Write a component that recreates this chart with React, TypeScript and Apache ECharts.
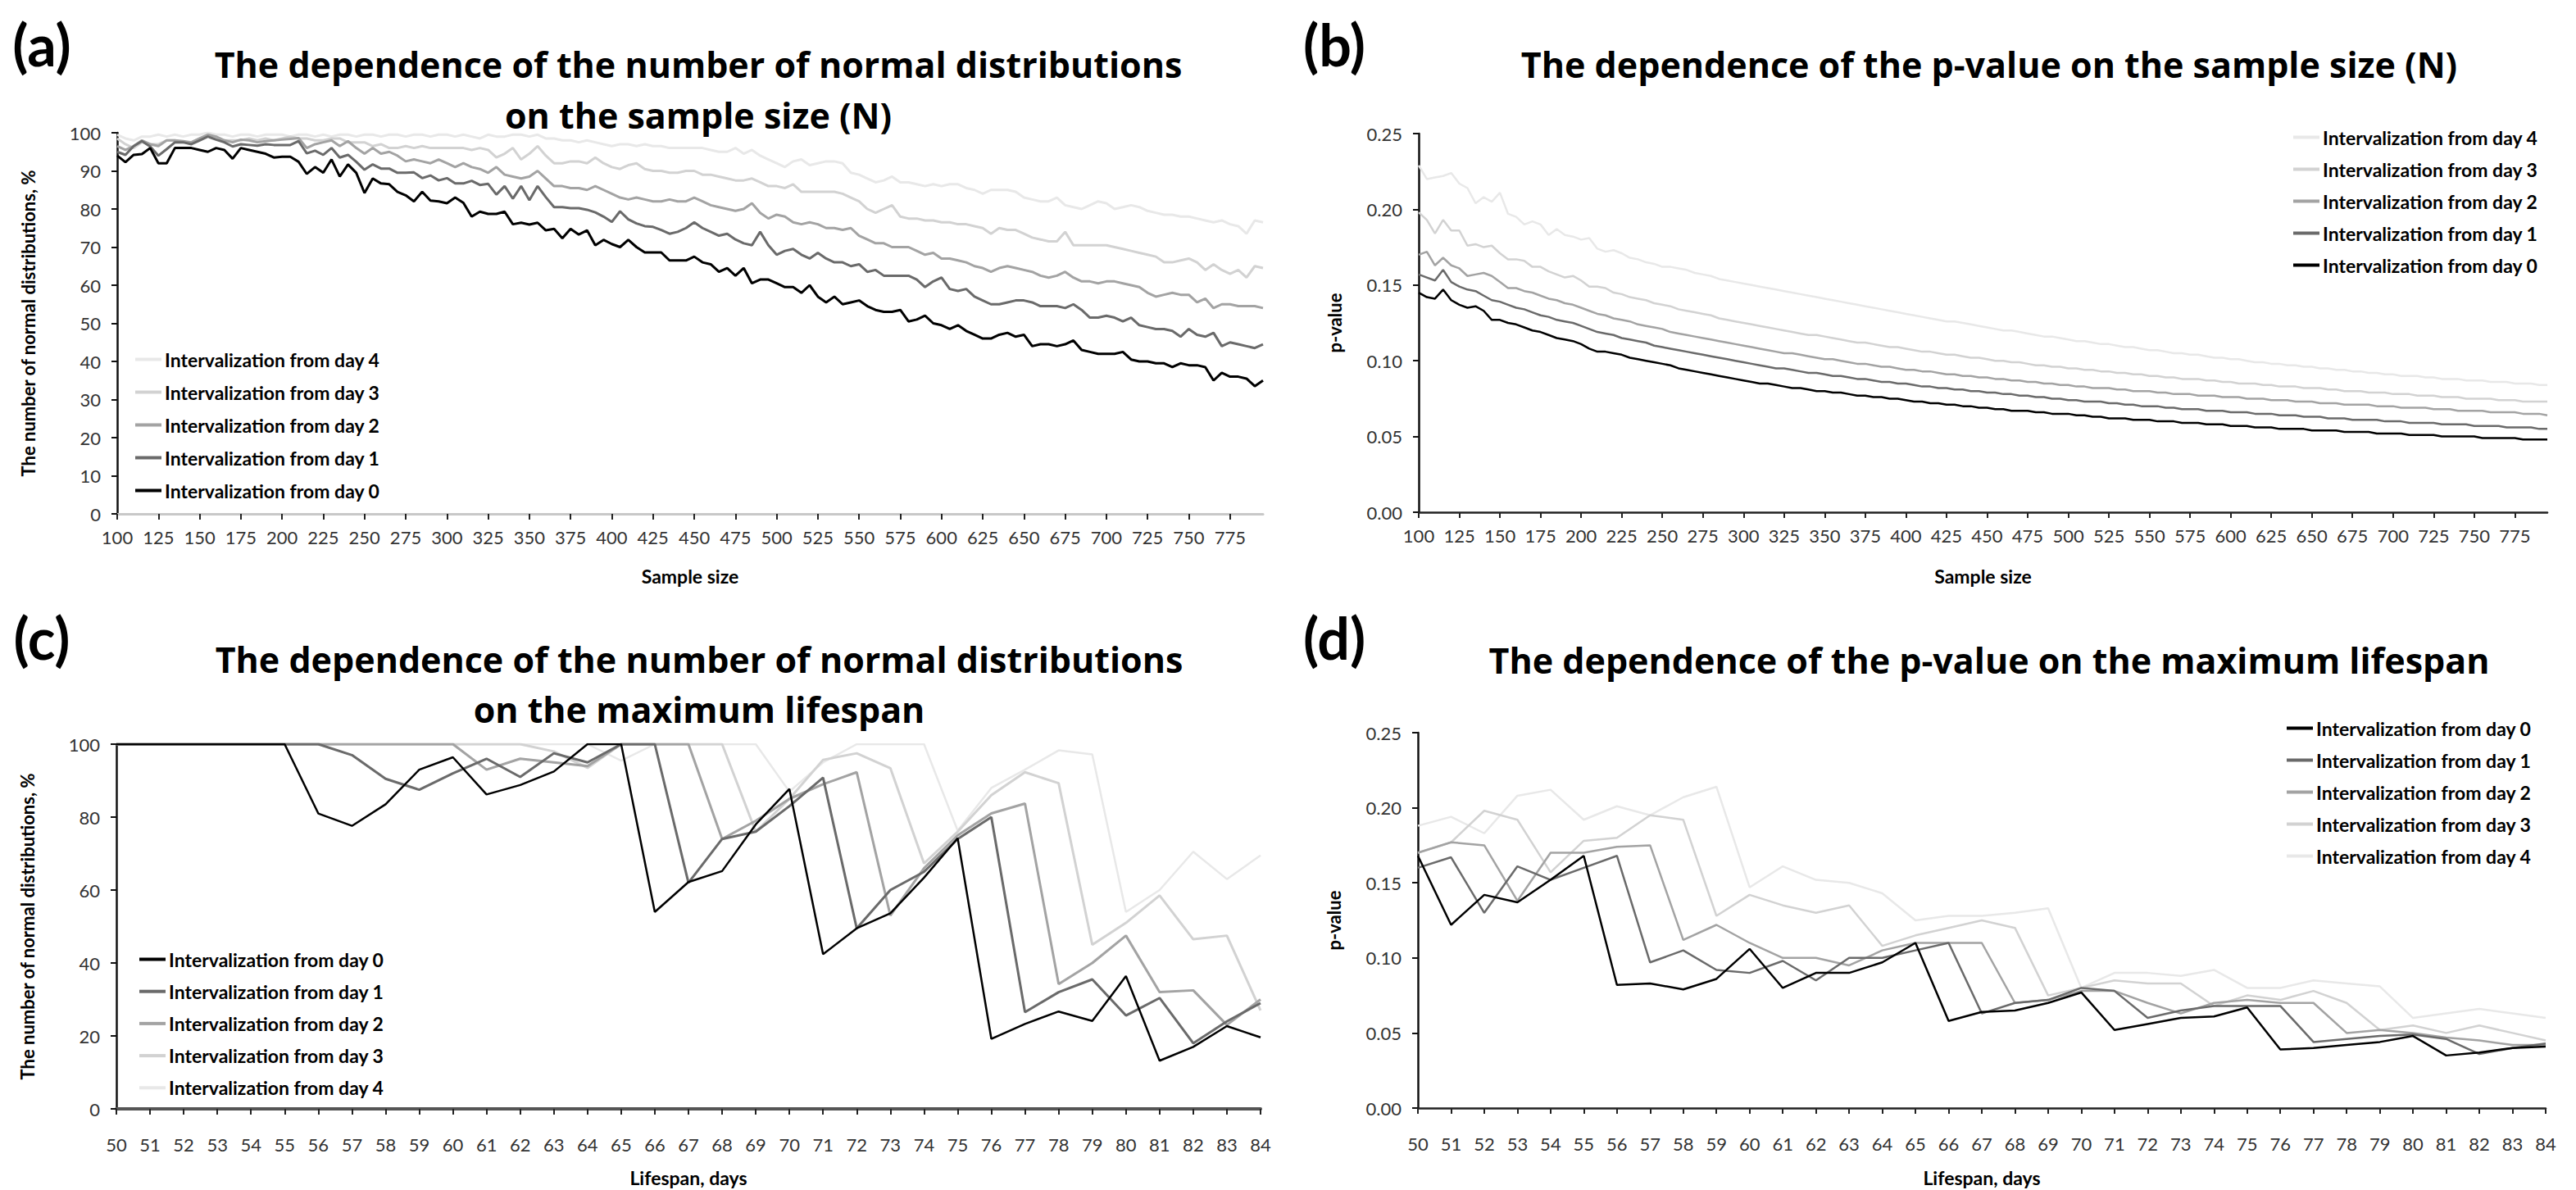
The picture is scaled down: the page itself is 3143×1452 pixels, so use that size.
import React, { useEffect, useRef } from 'react';
import * as echarts from 'echarts';

const FONT = 'Lato, "Open Sans", "DejaVu Sans", sans-serif';
const FONT_TITLE = '"Open Sans", Lato, "DejaVu Sans", sans-serif';

const SAMPLE_SIZES: string[] = [];
for (let n = 100; n <= 795; n += 5) SAMPLE_SIZES.push(String(n));
const LIFESPANS: string[] = [];
for (let d = 50; d <= 84; d++) LIFESPANS.push(String(d));

const NAMES = [
  'Intervalization from day 0',
  'Intervalization from day 1',
  'Intervalization from day 2',
  'Intervalization from day 3',
  'Intervalization from day 4',
];
const COLORS = ['#000000', '#6a6a6a', '#a3a3a3', '#d2d2d2', '#e8e8e8'];

// (a) number of normal distributions (%) vs sample size
const NORM_N_DAY0 = [
  94, 92.3, 94.2, 94.4, 96, 92, 92, 96, 96, 96,
  95.5, 95, 96, 95.5, 93.2, 96, 95.5, 95, 94.5, 93.5,
  93.7, 93.7, 92.4, 89.2, 91, 89.5, 93, 88.5, 91.7, 89.5,
  84.2, 88, 86.7, 86.5, 84.5, 83.6, 82, 84.5, 82.2, 82,
  81.5, 83, 81.6, 78, 79.3, 78.7, 78.7, 79.3, 76, 76.4,
  75.9, 76.4, 74.4, 74.8, 72.3, 74.8, 73.3, 74.4, 70.5, 71.9,
  70.8, 70, 71.9, 70, 68.6, 68.6, 68.6, 66.5, 66.5, 66.5,
  67.5, 66, 65.5, 63.5, 64.5, 62.5, 64.5, 60.5, 61.5, 61.5,
  60.5, 59.5, 59.5, 58, 60, 57, 55.5, 57, 55, 55.5,
  56, 54.5, 53.5, 53, 53, 53.5, 50.5, 51, 52, 50,
  49.5, 48.5, 49.5, 48, 47, 46, 46, 47, 47.5, 46.5,
  47, 44, 44.5, 44.5, 44, 44.5, 45.5, 43, 42.5, 42,
  42, 42, 42.5, 40.5, 40, 40, 39.5, 39.5, 38.5, 39.5,
  39, 39, 38.5, 35, 37, 36, 36, 35.5, 33.5, 35,
];
const NORM_N_DAY1 = [
  95, 94.2, 96.5, 97.8, 96.4, 94, 95.7, 97.5, 97.5, 97,
  98, 99, 98.2, 97.5, 96.4, 97, 96.8, 96.6, 97, 96.8,
  96.8, 96.8, 97.8, 94.6, 95.3, 94.2, 96, 93.5, 94.2, 92.4,
  90.3, 91.7, 90.6, 90.6, 89.5, 89.5, 89.6, 88.1, 88.8, 87.5,
  88.1, 86.7, 86.7, 87.4, 86.3, 86.6, 83.8, 86, 82.7, 86,
  82.3, 86, 83.1, 80.5, 80.5, 80.2, 80.2, 79.8, 79.1, 78,
  76.6, 79.4, 77.3, 76.2, 75.5, 75.3, 74.5, 73.5, 74, 75,
  76.5, 75, 74, 73, 73.5, 72, 71, 70.5, 74, 70.5,
  68, 69, 69.5, 68, 67, 68.5, 67, 66, 66, 65,
  65.5, 63.5, 64, 62.5, 62.5, 62.5, 62.5, 61.5, 59.5, 61,
  62, 59, 58.5, 59, 57, 56, 55, 55, 55.5, 56,
  56, 55.5, 54.5, 54.5, 54.5, 54, 55, 53.5, 51.5, 51.5,
  52, 51.5, 50.5, 51.5, 49.5, 49, 48.5, 48.5, 48, 46.5,
  48.5, 47, 46.5, 47.5, 44, 45, 44.5, 44, 43.5, 44.5,
];
const NORM_N_DAY2 = [
  96.5, 95.5, 96.5, 98, 97, 96.5, 98, 98, 97.8, 97.5,
  98.5, 99.5, 99, 98, 97.5, 98.2, 98, 97.5, 97.8, 98,
  98.2, 98.4, 98.6, 96, 97, 97.5, 98, 96.5, 97.8, 96,
  94.5, 96, 94.5, 95, 94, 92.5, 93, 92.5, 92, 93,
  92, 91, 92, 91, 90.5, 89.5, 91, 89, 88.5, 88,
  88.5, 90, 88, 86, 86, 85.5, 85.5, 85, 86, 85,
  84, 83, 82.5, 83, 82.5, 82, 82, 82.5, 82, 82,
  83, 82, 81, 80.5, 80, 79.5, 80, 81.5, 79, 77.5,
  78.5, 78, 76.5, 76, 76.5, 76, 75, 75, 74.5, 75,
  73, 72, 71, 71, 70, 70, 70, 69, 68, 68.5,
  67, 67, 66.5, 66, 65, 64.5, 63.5, 64.5, 65, 64.5,
  64, 63.5, 62.5, 62, 62.5, 63.5, 62, 61, 61, 60.5,
  61, 61, 60.5, 60, 59.5, 58, 57, 57.5, 58, 57.5,
  57.5, 55.5, 56.5, 54, 55, 55, 54.5, 54.5, 54.5, 54,
];
const NORM_N_DAY3 = [
  98.5, 97, 96, 97.5, 97, 97, 98, 98, 97.5, 97.5,
  98.5, 99.5, 98.5, 98, 98, 98, 98.5, 98, 98.5, 98,
  98.5, 99, 98.5, 98.5, 98, 98, 98.5, 98.5, 97.5, 97.5,
  97.5, 96.5, 97, 96, 96, 96.5, 96, 96.5, 96, 96,
  96, 96, 96, 95.5, 96, 95.5, 93.5, 94.5, 96, 93,
  94.5, 96.5, 94, 92, 92, 92.5, 92.5, 92, 93.5, 92,
  91, 90.5, 91.5, 92, 90.5, 90, 90, 89.5, 89.5, 90,
  90, 89, 89, 88.5, 88, 87.5, 87.5, 88, 87, 86,
  86, 85.5, 86.5, 84.5, 84.5, 84.5, 84.5, 84.5, 84, 83,
  82, 80, 79, 80, 81, 78, 77.5, 77.5, 77, 77,
  76.5, 76.5, 76, 76, 75.5, 75, 73.5, 75, 74.5, 74.5,
  73.5, 72.5, 72, 71.5, 71.5, 74, 70.5, 70.5, 70.5, 70.5,
  70.5, 70, 69.5, 69, 68.5, 68, 67.5, 66, 66, 66.5,
  67, 66, 64, 65.5, 64, 63, 64, 62, 65, 64.5,
];
const NORM_N_DAY4 = [
  99.5, 98.5, 98, 99, 99, 99.5, 99, 99.5, 99, 99.5,
  99.5, 100, 99.5, 99.5, 99, 99.5, 99.5, 99, 99.5, 99.5,
  99.5, 99, 99.5, 99.5, 99, 99.5, 99, 99.5, 99.5, 99,
  99.5, 99.5, 99, 99.5, 99.5, 99, 99.5, 99.5, 99, 99.5,
  99.5, 99, 99.5, 99, 98.5, 99.5, 99, 99, 99.5, 99.5,
  99, 99.5, 98.5, 98.5, 98, 98, 97.5, 98, 97.5, 97,
  96.5, 97, 97, 96.5, 97, 96.5, 96.5, 96, 96, 96,
  96, 96, 95.5, 95, 95, 96, 94.5, 95.5, 94, 93,
  92, 91, 92.5, 93, 91.5, 92, 92.5, 92.5, 92, 89.5,
  89, 88, 87, 87.5, 88.5, 87, 87, 86.5, 86, 86.5,
  86, 86.5, 86.5, 85.5, 85, 84, 85, 85, 85, 84.5,
  83, 82.5, 82, 82, 83, 81, 80.5, 80, 81, 82,
  81.5, 80, 80.5, 81, 80.5, 79.5, 79, 78.5, 78.5, 78,
  78, 77.5, 77, 76.5, 77, 76, 75.5, 73.5, 77, 76.5,
];

// (b) p-value vs sample size
const PVAL_N_DAY0 = [
  0.145, 0.142, 0.141, 0.147, 0.140, 0.137, 0.135, 0.136, 0.133, 0.127,
  0.127, 0.125, 0.124, 0.122, 0.120, 0.119, 0.117, 0.115, 0.114, 0.113,
  0.111, 0.108, 0.106, 0.106, 0.105, 0.104, 0.102, 0.101, 0.100, 0.099,
  0.098, 0.097, 0.095, 0.094, 0.093, 0.092, 0.091, 0.090, 0.089, 0.088,
  0.087, 0.086, 0.085, 0.085, 0.084, 0.083, 0.082, 0.082, 0.081, 0.080,
  0.080, 0.079, 0.079, 0.078, 0.077, 0.077, 0.076, 0.076, 0.075, 0.075,
  0.074, 0.073, 0.073, 0.072, 0.072, 0.071, 0.071, 0.070, 0.070, 0.069,
  0.069, 0.068, 0.068, 0.067, 0.067, 0.067, 0.066, 0.066, 0.065, 0.065,
  0.065, 0.064, 0.064, 0.063, 0.063, 0.062, 0.062, 0.062, 0.061, 0.061,
  0.061, 0.060, 0.060, 0.060, 0.059, 0.059, 0.059, 0.058, 0.058, 0.058,
  0.057, 0.057, 0.057, 0.056, 0.056, 0.056, 0.055, 0.055, 0.055, 0.055,
  0.054, 0.054, 0.054, 0.054, 0.053, 0.053, 0.053, 0.053, 0.052, 0.052,
  0.052, 0.052, 0.051, 0.051, 0.051, 0.051, 0.050, 0.050, 0.050, 0.050,
  0.050, 0.049, 0.049, 0.049, 0.049, 0.049, 0.048, 0.048, 0.048, 0.048,
];
const PVAL_N_DAY1 = [
  0.157, 0.155, 0.153, 0.160, 0.152, 0.149, 0.147, 0.146, 0.143, 0.140,
  0.139, 0.137, 0.135, 0.134, 0.132, 0.130, 0.129, 0.127, 0.126, 0.125,
  0.123, 0.121, 0.119, 0.118, 0.117, 0.115, 0.114, 0.113, 0.112, 0.110,
  0.109, 0.108, 0.107, 0.106, 0.105, 0.104, 0.103, 0.102, 0.101, 0.100,
  0.099, 0.098, 0.097, 0.096, 0.095, 0.095, 0.094, 0.093, 0.092, 0.092,
  0.091, 0.090, 0.090, 0.089, 0.088, 0.088, 0.087, 0.086, 0.086, 0.085,
  0.085, 0.084, 0.083, 0.083, 0.082, 0.082, 0.081, 0.081, 0.080, 0.080,
  0.079, 0.079, 0.078, 0.078, 0.077, 0.077, 0.076, 0.076, 0.075, 0.075,
  0.074, 0.074, 0.073, 0.073, 0.073, 0.072, 0.072, 0.071, 0.071, 0.070,
  0.070, 0.070, 0.069, 0.069, 0.068, 0.068, 0.068, 0.067, 0.067, 0.067,
  0.066, 0.066, 0.066, 0.065, 0.065, 0.065, 0.064, 0.064, 0.064, 0.063,
  0.063, 0.063, 0.062, 0.062, 0.062, 0.061, 0.061, 0.061, 0.061, 0.060,
  0.060, 0.060, 0.059, 0.059, 0.059, 0.059, 0.058, 0.058, 0.058, 0.058,
  0.057, 0.057, 0.057, 0.057, 0.056, 0.056, 0.056, 0.056, 0.055, 0.055,
];
const PVAL_N_DAY2 = [
  0.170, 0.172, 0.163, 0.168, 0.163, 0.161, 0.156, 0.157, 0.158, 0.156,
  0.152, 0.148, 0.148, 0.146, 0.145, 0.143, 0.141, 0.140, 0.138, 0.137,
  0.135, 0.133, 0.131, 0.130, 0.128, 0.127, 0.126, 0.124, 0.123, 0.122,
  0.121, 0.119, 0.118, 0.117, 0.116, 0.115, 0.114, 0.113, 0.112, 0.111,
  0.110, 0.109, 0.108, 0.107, 0.106, 0.105, 0.105, 0.104, 0.103, 0.102,
  0.101, 0.101, 0.100, 0.099, 0.098, 0.098, 0.097, 0.096, 0.096, 0.095,
  0.094, 0.094, 0.093, 0.093, 0.092, 0.091, 0.091, 0.090, 0.090, 0.089,
  0.089, 0.088, 0.088, 0.087, 0.087, 0.086, 0.086, 0.085, 0.085, 0.084,
  0.084, 0.083, 0.083, 0.082, 0.082, 0.082, 0.081, 0.081, 0.080, 0.080,
  0.080, 0.079, 0.079, 0.078, 0.078, 0.078, 0.077, 0.077, 0.077, 0.076,
  0.076, 0.076, 0.075, 0.075, 0.075, 0.074, 0.074, 0.074, 0.073, 0.073,
  0.073, 0.072, 0.072, 0.072, 0.071, 0.071, 0.071, 0.071, 0.070, 0.070,
  0.070, 0.069, 0.069, 0.069, 0.069, 0.068, 0.068, 0.068, 0.067, 0.067,
  0.067, 0.067, 0.066, 0.066, 0.066, 0.066, 0.065, 0.065, 0.065, 0.064,
];
const PVAL_N_DAY3 = [
  0.198, 0.193, 0.184, 0.193, 0.186, 0.186, 0.176, 0.177, 0.175, 0.176,
  0.171, 0.167, 0.167, 0.166, 0.162, 0.162, 0.159, 0.157, 0.155, 0.156,
  0.153, 0.149, 0.149, 0.148, 0.145, 0.144, 0.142, 0.141, 0.140, 0.138,
  0.137, 0.136, 0.134, 0.133, 0.132, 0.131, 0.130, 0.128, 0.127, 0.126,
  0.125, 0.124, 0.123, 0.122, 0.121, 0.120, 0.119, 0.118, 0.117, 0.117,
  0.116, 0.115, 0.114, 0.113, 0.112, 0.112, 0.111, 0.110, 0.109, 0.109,
  0.108, 0.107, 0.106, 0.106, 0.105, 0.104, 0.104, 0.103, 0.102, 0.102,
  0.101, 0.100, 0.100, 0.099, 0.099, 0.098, 0.097, 0.097, 0.096, 0.096,
  0.095, 0.095, 0.094, 0.094, 0.093, 0.093, 0.092, 0.092, 0.091, 0.091,
  0.090, 0.090, 0.089, 0.089, 0.088, 0.088, 0.088, 0.087, 0.087, 0.086,
  0.086, 0.085, 0.085, 0.085, 0.084, 0.084, 0.083, 0.083, 0.083, 0.082,
  0.082, 0.082, 0.081, 0.081, 0.080, 0.080, 0.080, 0.079, 0.079, 0.079,
  0.078, 0.078, 0.078, 0.077, 0.077, 0.077, 0.076, 0.076, 0.076, 0.075,
  0.075, 0.075, 0.075, 0.074, 0.074, 0.074, 0.073, 0.073, 0.073, 0.073,
];
const PVAL_N_DAY4 = [
  0.229, 0.220, 0.221, 0.222, 0.224, 0.217, 0.214, 0.204, 0.208, 0.205,
  0.211, 0.197, 0.195, 0.190, 0.192, 0.190, 0.183, 0.187, 0.183, 0.182,
  0.180, 0.181, 0.174, 0.172, 0.173, 0.171, 0.168, 0.167, 0.165, 0.164,
  0.162, 0.162, 0.161, 0.160, 0.158, 0.157, 0.156, 0.154, 0.153, 0.152,
  0.151, 0.150, 0.149, 0.148, 0.147, 0.146, 0.145, 0.144, 0.143, 0.142,
  0.141, 0.140, 0.139, 0.138, 0.137, 0.136, 0.135, 0.134, 0.133, 0.132,
  0.131, 0.130, 0.129, 0.128, 0.127, 0.126, 0.126, 0.125, 0.124, 0.123,
  0.122, 0.121, 0.120, 0.120, 0.119, 0.118, 0.117, 0.116, 0.116, 0.115,
  0.114, 0.113, 0.113, 0.112, 0.111, 0.111, 0.110, 0.109, 0.109, 0.108,
  0.107, 0.107, 0.106, 0.105, 0.105, 0.104, 0.104, 0.103, 0.102, 0.102,
  0.101, 0.101, 0.100, 0.099, 0.099, 0.098, 0.098, 0.097, 0.097, 0.096,
  0.096, 0.095, 0.095, 0.094, 0.094, 0.093, 0.093, 0.092, 0.092, 0.091,
  0.091, 0.090, 0.090, 0.090, 0.089, 0.089, 0.088, 0.088, 0.088, 0.087,
  0.087, 0.087, 0.086, 0.086, 0.086, 0.085, 0.085, 0.085, 0.084, 0.084,
];

// (c) number of normal distributions (%) vs maximum lifespan (days 50..84)
const NORM_L_DAY0 = [100, 100, 100, 100, 100, 100, 81, 77.6, 83.5, 93, 96.4, 86.2, 88.8, 92.5, 100, 100, 54, 62.2, 65.2, 78, 87.7, 42.4, 49.5, 53.6, 63.4, 74.2, 19.2, 23.3, 26.7, 24.1, 36.4, 13.2, 17, 22.7, 19.6];
const NORM_L_DAY1 = [100, 100, 100, 100, 100, 100, 100, 97, 90.5, 87.5, 92, 96, 91, 97.5, 95, 100, 100, 62, 74, 76, 83, 90.8, 49.5, 60, 65, 74, 80, 26.5, 32, 35.5, 25.6, 30.4, 18, 24, 29];
const NORM_L_DAY2 = [100, 100, 100, 100, 100, 100, 100, 100, 100, 100, 100, 93, 96, 95, 94, 100, 100, 100, 74, 79, 85, 89, 92.3, 53, 66, 75, 81, 83.7, 34.2, 40, 47.5, 32, 32.5, 23, 30];
const NORM_L_DAY3 = [100, 100, 100, 100, 100, 100, 100, 100, 100, 100, 100, 100, 100, 98, 93.5, 100, 100, 100, 100, 76, 85, 95.7, 97.5, 93.4, 67.3, 76, 86, 92.3, 89.3, 45, 51, 58.5, 46.5, 47.5, 27];
const NORM_L_DAY4 = [100, 100, 100, 100, 100, 100, 100, 100, 100, 100, 100, 100, 100, 100, 100, 95.5, 100, 100, 100, 100, 87, 95, 100, 100, 100, 76.3, 88, 93, 98.3, 97.2, 54, 60, 70.5, 63, 69.5];

// (d) p-value vs maximum lifespan (days 50..84)
const PVAL_L_DAY0 = [0.168, 0.122, 0.142, 0.137, 0.152, 0.168, 0.082, 0.083, 0.079, 0.086, 0.106, 0.080, 0.090, 0.090, 0.097, 0.110, 0.058, 0.064, 0.065, 0.070, 0.077, 0.052, 0.056, 0.060, 0.061, 0.067, 0.039, 0.040, 0.042, 0.044, 0.048, 0.035, 0.037, 0.040, 0.041];
const PVAL_L_DAY1 = [0.160, 0.167, 0.130, 0.161, 0.152, 0.160, 0.168, 0.097, 0.105, 0.092, 0.090, 0.098, 0.085, 0.100, 0.100, 0.105, 0.110, 0.063, 0.070, 0.072, 0.080, 0.078, 0.060, 0.065, 0.068, 0.068, 0.068, 0.044, 0.046, 0.048, 0.049, 0.046, 0.036, 0.040, 0.043];
const PVAL_L_DAY2 = [0.170, 0.177, 0.175, 0.138, 0.170, 0.170, 0.174, 0.175, 0.112, 0.122, 0.110, 0.100, 0.100, 0.095, 0.105, 0.110, 0.110, 0.110, 0.070, 0.072, 0.078, 0.078, 0.070, 0.063, 0.070, 0.072, 0.070, 0.070, 0.050, 0.052, 0.050, 0.047, 0.045, 0.042, 0.042];
const PVAL_L_DAY3 = [0.170, 0.177, 0.198, 0.192, 0.157, 0.178, 0.180, 0.195, 0.192, 0.128, 0.142, 0.135, 0.130, 0.135, 0.108, 0.115, 0.120, 0.125, 0.120, 0.075, 0.080, 0.085, 0.083, 0.083, 0.068, 0.075, 0.072, 0.078, 0.070, 0.052, 0.055, 0.050, 0.055, 0.050, 0.045];
const PVAL_L_DAY4 = [0.188, 0.194, 0.183, 0.208, 0.212, 0.192, 0.201, 0.195, 0.207, 0.214, 0.147, 0.161, 0.152, 0.150, 0.143, 0.125, 0.128, 0.128, 0.130, 0.133, 0.080, 0.090, 0.090, 0.088, 0.092, 0.080, 0.080, 0.085, 0.083, 0.081, 0.060, 0.063, 0.066, 0.063, 0.060];

const PANEL_DATA = [
  [NORM_N_DAY0, NORM_N_DAY1, NORM_N_DAY2, NORM_N_DAY3, NORM_N_DAY4],
  [PVAL_N_DAY0, PVAL_N_DAY1, PVAL_N_DAY2, PVAL_N_DAY3, PVAL_N_DAY4],
  [NORM_L_DAY0, NORM_L_DAY1, NORM_L_DAY2, NORM_L_DAY3, NORM_L_DAY4],
  [PVAL_L_DAY0, PVAL_L_DAY1, PVAL_L_DAY2, PVAL_L_DAY3, PVAL_L_DAY4],
];
const LINE_WIDTHS = [
  [3, 3, 3, 3, 3],
  [2.5, 2.5, 2.5, 2.5, 2.5],
  [2.5, 3, 3, 3, 2.5],
  [2.5, 2.5, 2.5, 2.5, 2.5],
];

const TITLE_A = 'The dependence of the number of normal distributions\non the sample size (N)';
const TITLE_B = 'The dependence of the p-value on the sample size (N)';
const TITLE_C = 'The dependence of the number of normal distributions\non the maximum lifespan';
const TITLE_D = 'The dependence of the p-value on the maximum lifespan';
const Y_NAME_NORM = 'The number of normal distributions, %';
const Y_NAME_P = 'p-value';

function buildOption() {
  const grids = [
    { left: 143, top: 162, width: 1398, height: 465 },
    { left: 1731, top: 163, width: 1377, height: 462 },
    { left: 142, top: 908, width: 1396, height: 445 },
    { left: 1730, top: 894, width: 1376, height: 458 },
  ].map((g) => ({ ...g, outerBoundsMode: 'none', containLabel: false }));

  const labelStyle = { fontSize: 22, color: '#333', fontFamily: FONT };
  const nameStyle = { fontSize: 23, fontWeight: 'bold', color: '#000', fontFamily: FONT };

  const xAxisBase = (i: number, data: string[], every: number, name: string, nameGap: number, margin: number, lineColor: string, lineWidth: number) => ({
    gridIndex: i,
    type: 'category',
    data,
    boundaryGap: false,
    axisLine: { show: true, lineStyle: { color: lineColor, width: lineWidth } },
    axisTick: { show: true, interval: every, length: 7, lineStyle: { color: '#222', width: 2 } },
    axisLabel: { ...labelStyle, interval: every, margin },
    splitLine: { show: false },
    name,
    nameLocation: 'middle',
    nameGap,
    nameTextStyle: nameStyle,
  });

  const yAxisBase = (i: number, max: number, interval: number, decimals: number, name: string, nameGap: number) => ({
    gridIndex: i,
    type: 'value',
    min: 0,
    max,
    interval,
    axisLine: { show: true, lineStyle: { color: '#111', width: 2.5 } },
    axisTick: { show: true, length: 7, lineStyle: { color: '#111', width: 2 } },
    axisLabel: { ...labelStyle, margin: 20, formatter: (v: number) => v.toFixed(decimals) },
    splitLine: { show: false },
    name,
    nameLocation: 'middle',
    nameRotate: 90,
    nameGap,
    nameTextStyle: { ...nameStyle, fontSize: 22 },
  });

  const xAxis = [
    xAxisBase(0, SAMPLE_SIZES, 4, 'Sample size', 64, 17, '#c8c8c8', 3),
    xAxisBase(1, SAMPLE_SIZES, 4, 'Sample size', 66, 17, '#222', 2.5),
    xAxisBase(2, LIFESPANS, 0, 'Lifespan, days', 72, 32, '#555', 4),
    xAxisBase(3, LIFESPANS, 0, 'Lifespan, days', 73, 32, '#222', 2.5),
  ];
  const yAxis = [
    yAxisBase(0, 100, 10, 0, Y_NAME_NORM, 98),
    yAxisBase(1, 0.25, 0.05, 2, Y_NAME_P, 92),
    yAxisBase(2, 100, 20, 0, Y_NAME_NORM, 98),
    yAxisBase(3, 0.25, 0.05, 2, Y_NAME_P, 92),
  ];

  const series: any[] = [];
  for (let p = 0; p < 4; p++) {
    for (let k = 4; k >= 0; k--) {
      series.push({
        name: NAMES[k],
        type: 'line',
        xAxisIndex: p,
        yAxisIndex: p,
        data: PANEL_DATA[p][k],
        symbol: 'none',
        showSymbol: false,
        lineStyle: { color: COLORS[k], width: LINE_WIDTHS[p][k] },
        itemStyle: { color: COLORS[k] },
        emphasis: { disabled: true },
        silent: true,
        z: 2,
      });
    }
  }

  const legendBase = (left: number, top: number, order: number[], gap: number) => ({
    data: order.map((k) => NAMES[k]),
    orient: 'vertical',
    left,
    top,
    padding: 0,
    icon: 'rect',
    itemWidth: 32,
    itemHeight: 4,
    itemGap: gap,
    selectedMode: false,
    textStyle: { fontSize: 23, fontWeight: 'bold', color: '#000', fontFamily: FONT, lineHeight: 23, padding: [0, 0, 0, -1] },
  });
  const legend = [
    legendBase(165, 427, [4, 3, 2, 1, 0], 17),
    legendBase(2798, 156, [4, 3, 2, 1, 0], 16),
    legendBase(170, 1159, [0, 1, 2, 3, 4], 16.2),
    legendBase(2790, 877, [0, 1, 2, 3, 4], 16),
  ];

  const text = (x: number, y: number, t: string, size: number, font: string, lineHeight?: number) => ({
    type: 'text',
    x,
    y,
    silent: true,
    style: {
      text: t,
      fontSize: size,
      fontWeight: 'bold',
      fontFamily: font,
      fill: '#000',
      textAlign: 'center',
      textVerticalAlign: 'middle',
      lineHeight: lineHeight || size * 1.2,
    },
  });
  const graphic = [
    text(51, 54, '(a)', 70, FONT),
    text(1628, 54, '(b)', 70, FONT),
    text(51, 778, '(c)', 70, FONT),
    text(1628, 778, '(d)', 70, FONT),
    text(852, 109, TITLE_A, 43, FONT_TITLE, 62),
    text(2427, 78, TITLE_B, 43, FONT_TITLE, 62),
    text(853, 835, TITLE_C, 43, FONT_TITLE, 61),
    text(2427, 805, TITLE_D, 43, FONT_TITLE, 62),
  ];

  return {
    animation: false,
    backgroundColor: '#ffffff',
    textStyle: { fontFamily: FONT },
    grid: grids,
    xAxis,
    yAxis,
    legend,
    series,
    graphic,
  };
}

export default function App() {
  const ref = useRef<HTMLDivElement>(null);
  useEffect(() => {
    if (!ref.current) return;
    const chart = echarts.init(ref.current, null, { renderer: 'svg' });
    chart.setOption(buildOption() as any);
    return () => chart.dispose();
  }, []);
  return <div ref={ref} style={{ position: 'fixed', left: 0, top: 0, width: 3143, height: 1452 }} />;
}
